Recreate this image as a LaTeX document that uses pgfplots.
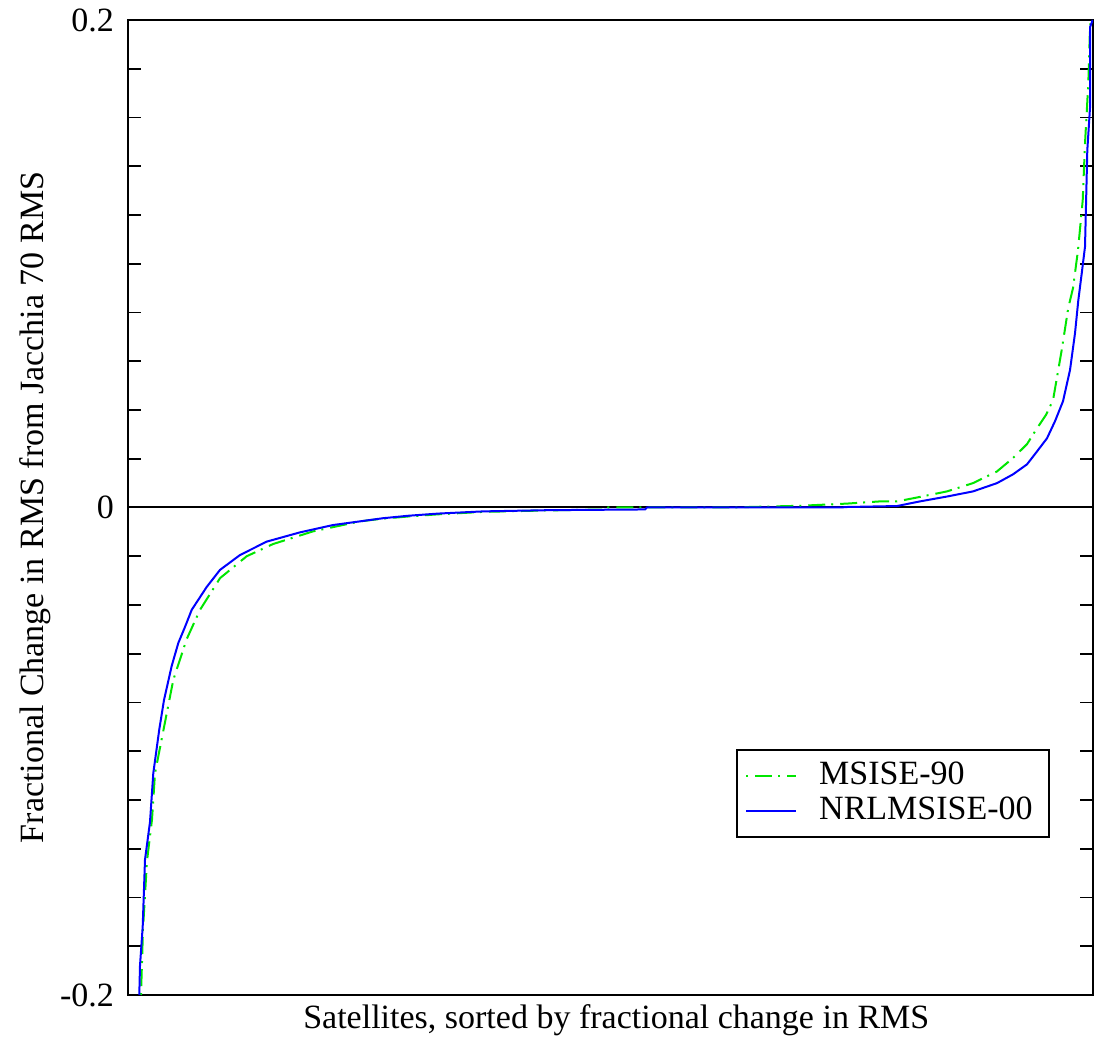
\documentclass[border=0pt]{standalone}
\usepackage{pgfplots}
\pgfplotsset{compat=1.18}
\usepackage{fontspec}
\setmainfont{Liberation Serif}
\begin{document}
\begin{tikzpicture}
\begin{axis}[
  scale only axis,
  width=241.25pt, height=243.75pt,
  xmin=0, xmax=965, ymin=-0.2, ymax=0.2,
  xtick=\empty,
  ytick={-0.2,0,0.2},
  yticklabels={-0.2,0,0.2},
  minor y tick num=9,
  tick align=inside,
  ytick pos=both,
  major tick length=3.3pt, minor tick length=3.3pt,
  every tick/.style={black, line width=0.45pt},
  axis line style={line width=0.45pt},
  font=\fontsize{8.5pt}{10.2pt}\selectfont,
  /pgf/number format/assume math mode=true,
  xlabel={Satellites, sorted by fractional change in RMS},
  ylabel={Fractional Change in RMS from Jacchia 70 RMS},
  xlabel style={at={(axis description cs:0.506,-0.026)}, anchor=center},
  ylabel style={at={(axis description cs:-0.0964,0.5)}, anchor=center},
  legend style={at={(axis description cs:0.955,0.161)}, anchor=south east,
    draw=black, line width=0.45pt, font=\fontsize{8.5pt}{10.2pt}\selectfont,
    inner xsep=2pt, inner ysep=1pt, row sep=-2.5pt},
  legend cell align=left,
  legend image code/.code={\draw[#1] (0pt,0pt) -- (12.5pt,0pt); \path (16pt,0pt);},
]
\addplot[black, line width=0.5pt, forget plot] coordinates {(0,0) (965,0)};
\addplot[color={rgb,255:red,0;green,230;blue,0}, line width=0.5pt,
  dash pattern=on 0.5pt off 1.75pt on 4.25pt off 1.5pt] coordinates {
(13,-0.2) (15,-0.173) (19,-0.145) (24,-0.128) (27,-0.109) (33.7,-0.095)
(45.3,-0.0707) (58.7,-0.054) (72,-0.042) (92,-0.029) (118.7,-0.020)
(145,-0.0150) (185,-0.0098) (232,-0.0057) (252,-0.0047) (280,-0.0037)
(310,-0.0028) (355,-0.0018) (420,-0.0012) (478,-0.0008) (480,0)
(600,0) (672,0.0007) (719,0.0016) (752,0.0025) (769,0.0025) (789,0.0041)
(819,0.0066) (845,0.010) (869,0.0148) (885,0.0203) (899,0.026)
(909,0.0325) (918,0.038) (925,0.044) (933.7,0.0646) (940.3,0.082)
(945,0.090) (950,0.1056) (954.7,0.126) (957,0.1494) (960.3,0.174)
(962,0.197) (963,0.2)
};
\addlegendentry{MSISE-90}
\addplot[color={rgb,255:red,0;green,0;blue,255}, line width=0.5pt] coordinates {
(11.3,-0.2) (12,-0.188) (14.7,-0.172) (17,-0.1445) (22,-0.129) (25.3,-0.109)
(31.3,-0.091) (36,-0.079) (43.7,-0.065) (50.3,-0.0556) (57,-0.049)
(63.7,-0.042) (78.7,-0.0326) (92,-0.0256) (112,-0.0195) (138.7,-0.014)
(172,-0.0102) (205,-0.0072) (255,-0.0044) (280,-0.0034) (310,-0.0025)
(355,-0.0016) (420,-0.0011) (517,-0.0008) (519,0) (712,0)
(719,0.0002) (769,0.0006) (792,0.0025) (819,0.0045) (845,0.0066)
(869,0.010) (885,0.0136) (899,0.0177) (909,0.023) (919,0.0284)
(927,0.0354) (935,0.0436) (942,0.0564) (947,0.0715)
(950.3,0.085) (953.7,0.096) (957,0.107) (959.3,0.1466) (962,0.164)
(962,0.197) (964.7,0.2)
};
\addlegendentry{NRLMSISE-00}
\end{axis}
\pgfresetboundingbox
\path[use as bounding box] ([shift={(-32pt,-10.75pt)}]current axis.south west)
  rectangle ([shift={(2pt,5pt)}]current axis.north east);
\end{tikzpicture}
\end{document}
